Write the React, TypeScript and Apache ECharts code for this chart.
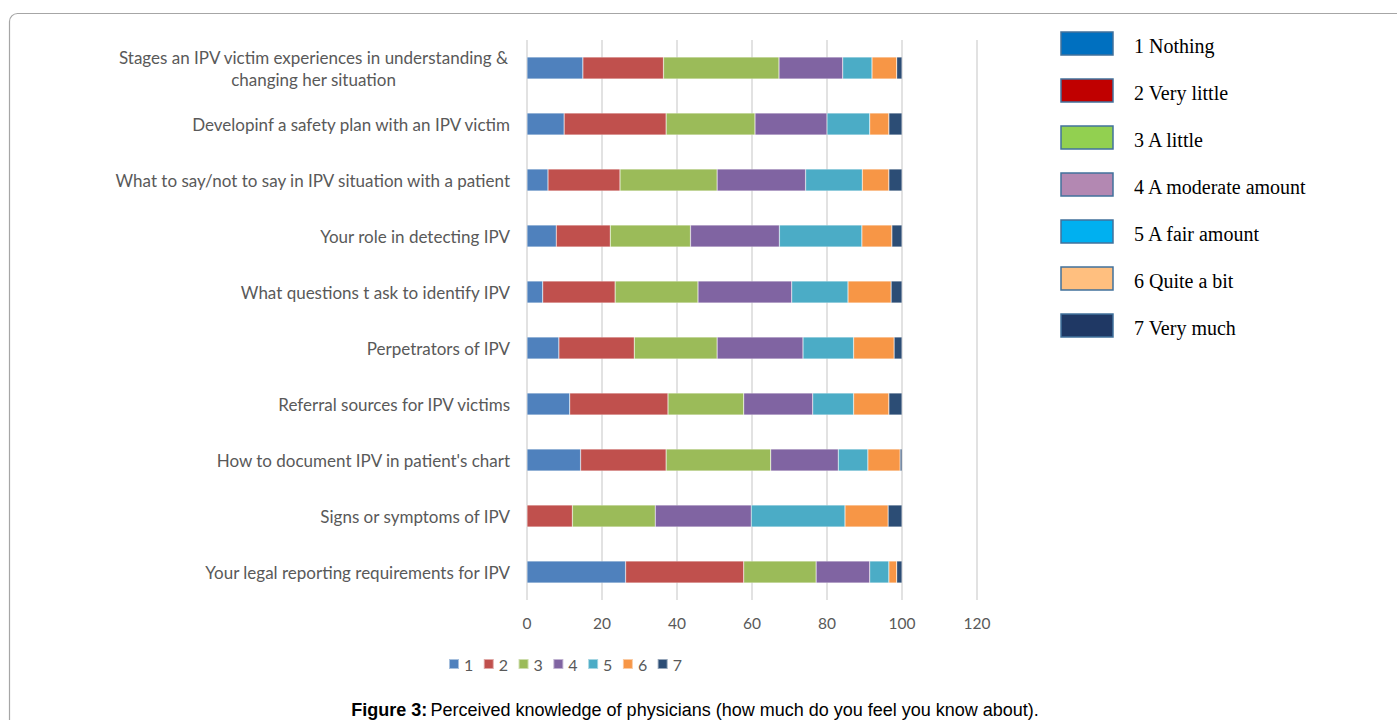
import React, { useEffect, useRef } from "react";
import * as echarts from "echarts";

// Knowledge topics, listed top to bottom
const topics = [
  "Stages an IPV victim experiences in understanding & changing her situation",
  "Developinf a safety plan with an IPV victim",
  "What to say/not to say in IPV situation with a patient",
  "Your role in detecting IPV",
  "What questions t ask to identify IPV",
  "Perpetrators of IPV",
  "Referral sources for IPV victims",
  "How to document IPV in patient's chart",
  "Signs or symptoms of IPV",
  "Your legal reporting requirements for IPV",
];

// Percentage of physicians answering each level, per topic (same order as topics)
const level1 = [14.9, 9.9, 5.6, 7.8, 4.2, 8.5, 11.4, 14.3, 0, 26.3];
const level2 = [21.5, 27.2, 19.2, 14.4, 19.3, 20.1, 26.2, 22.8, 12.1, 31.5];
const level3 = [30.8, 23.7, 25.9, 21.4, 22.1, 22.1, 20.2, 27.9, 22.1, 19.3];
const level4 = [17.0, 19.2, 23.6, 23.7, 25.0, 22.9, 18.4, 18.0, 25.6, 14.3];
const level5 = [7.8, 11.4, 15.1, 22.0, 15.0, 13.5, 10.9, 7.9, 25.0, 5.1];
const level6 = [6.6, 5.1, 7.1, 8.0, 11.5, 10.8, 9.4, 8.6, 11.5, 2.1];
const level7 = [1.4, 3.5, 3.5, 2.7, 2.9, 2.1, 3.5, 0.5, 3.7, 1.4];

const seriesNames = ["1", "2", "3", "4", "5", "6", "7"];
const seriesValues = [level1, level2, level3, level4, level5, level6, level7];
const seriesColors = ["#4F81BD", "#C0504D", "#9BBB59", "#8064A2", "#4BACC6", "#F79646", "#2C4D75"];

// Side key describing the answer scale
const scaleLabels = [
  "1 Nothing",
  "2 Very little",
  "3 A little",
  "4 A moderate amount",
  "5 A fair amount",
  "6 Quite a bit",
  "7 Very much",
];
const scaleColors = ["#0070C0", "#C00000", "#92D050", "#B388B2", "#00B0F0", "#FFBF7F", "#1F3864"];

const xTicks = { min: 0, max: 120, interval: 20 };

const LABEL_FONT = "Lato, 'Open Sans', sans-serif";
const LABEL_SIZE = 17;
const TICK_SIZE = 15.5;

function measure(text: string, font: string): number {
  const c = document.createElement("canvas");
  const ctx = c.getContext("2d");
  if (!ctx) return text.length * 8;
  ctx.font = font;
  return ctx.measureText(text).width;
}

export default function App() {
  const ref = useRef<HTMLDivElement>(null);

  useEffect(() => {
    if (!ref.current) return;
    const chart = echarts.init(ref.current, undefined, { renderer: "svg" });

    const firstLine = "Stages an IPV victim experiences in understanding &";
    const secondLine = "changing her situation";
    const wrapWidth = Math.ceil(measure(firstLine, `${LABEL_SIZE}px Lato`)) + 2;

    const keyGraphics: any[] = [];
    scaleLabels.forEach((lbl, i) => {
      const y = 32 + i * 47;
      keyGraphics.push({
        type: "rect",
        shape: { x: 1061, y, width: 52, height: 23 },
        style: { fill: scaleColors[i], stroke: "#41719C", lineWidth: 1.5 },
      });
      keyGraphics.push({
        type: "text",
        x: 1134,
        y: y + 14,
        style: {
          text: lbl,
          font: "20px 'Liberation Serif', 'Times New Roman', serif",
          fill: "#000",
          verticalAlign: "middle",
          align: "left",
        },
      });
    });

    chart.setOption({
      animation: false,
      backgroundColor: "#fff",
      grid: { left: 527, right: 420, top: 40, bottom: 120, containLabel: false },
      legend: {
        data: seriesNames,
        left: 448,
        top: 656,
        padding: 0,
        itemWidth: 10,
        itemHeight: 10,
        itemGap: 9.5,
        icon: "rect",
        textStyle: { color: "#595959", fontSize: 16, fontFamily: LABEL_FONT },
      },
      xAxis: {
        type: "value",
        min: xTicks.min,
        max: xTicks.max,
        interval: xTicks.interval,
        axisLine: { show: false },
        axisTick: { show: false },
        splitLine: { show: true, lineStyle: { color: "#D9D9D9", width: 1.5 } },
        axisLabel: { color: "#595959", fontSize: TICK_SIZE, fontFamily: LABEL_FONT, margin: 15 },
      },
      yAxis: {
        type: "category",
        inverse: true,
        data: topics,
        axisLine: { show: false },
        axisTick: { show: false },
        axisLabel: {
          color: "#595959",
          fontSize: LABEL_SIZE,
          fontFamily: LABEL_FONT,
          margin: 17,
          lineHeight: 22,
          formatter: (v: string) =>
            v === topics[0] ? `{w|${firstLine}}\n{w|${secondLine}}` : v,
          rich: {
            w: {
              width: wrapWidth,
              align: "center",
              color: "#595959",
              fontSize: LABEL_SIZE,
              fontFamily: LABEL_FONT,
              lineHeight: 22,
            },
          },
        },
      },
      series: seriesNames.map((name, i) => ({
        name,
        type: "bar",
        stack: "total",
        barWidth: 22,
        data: seriesValues[i],
        itemStyle: { color: seriesColors[i], borderColor: "rgba(255,255,255,0.5)", borderWidth: 0.5 },
      })),
      graphic: [
        {
          type: "rect",
          shape: { x: 9.5, y: 13.5, width: 1420, height: 760, r: 8 },
          style: { fill: "none", stroke: "#A6A6A6", lineWidth: 1.2 },
          silent: true,
        },
        ...keyGraphics,
        {
          type: "text",
          x: 695,
          y: 710,
          style: {
            text: "{b|Figure 3:} {n|Perceived knowledge of physicians (how much do you feel you know about).}",
            align: "center",
            verticalAlign: "middle",
            rich: {
              b: { font: "bold 18px 'Liberation Sans', Arial, sans-serif", fill: "#000" },
              n: { font: "18px 'Liberation Sans', Arial, sans-serif", fill: "#000" },
            },
          },
        },
      ],
    });

    return () => chart.dispose();
  }, []);

  return (
    <div
      ref={ref}
      style={{ position: "fixed", left: 0, top: 0, width: 1397, height: 720 }}
    />
  );
}
